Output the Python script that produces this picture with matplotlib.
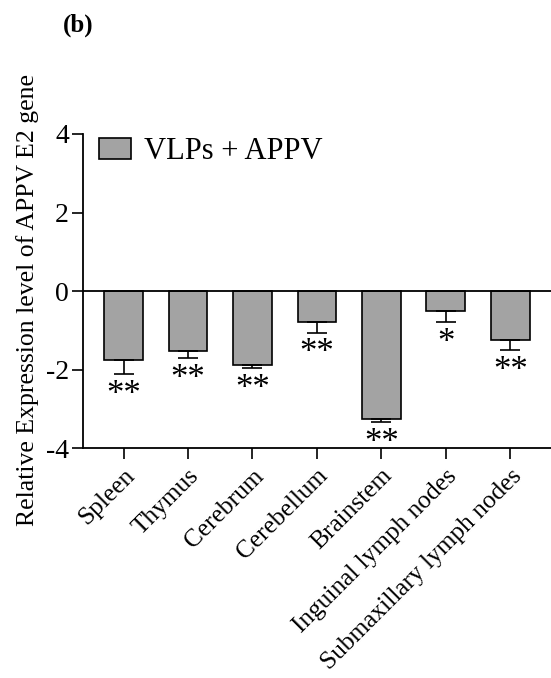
import matplotlib
matplotlib.use("Agg")
import matplotlib.pyplot as plt
import numpy as np

categories = ["Spleen", "Thymus", "Cerebrum", "Cerebellum", "Brainstem",
              "Inguinal lymph nodes", "Submaxillary lymph nodes"]
values = [-1.76, -1.53, -1.89, -0.80, -3.26, -0.51, -1.24]
errors = [0.36, 0.18, 0.08, 0.26, 0.08, 0.29, 0.26]
stars = ["**", "**", "**", "**", "**", "*", "**"]
series_name = "VLPs + APPV"
yticks = [-4, -2, 0, 2, 4]

plt.rcParams['font.family'] = ['Liberation Serif', 'DejaVu Serif']

fig = plt.figure(figsize=(5.51, 6.78), dpi=100)
ax = fig.add_axes([0.1506, 0.339, 0.849, 0.4634])

x = np.arange(len(categories))
ax.bar(x, values, width=0.6, color="#a3a3a3", edgecolor="black", linewidth=1.2,
       label=series_name, zorder=2)
ax.errorbar(x, values, yerr=[errors, [0]*len(errors)], fmt='none', ecolor='black',
            elinewidth=1.2, capsize=7.5, capthick=1.2, zorder=3)
ax.axhline(0, color='black', linewidth=1.3, zorder=4)

for xi, v, e, s in zip(x, values, errors, stars):
    ax.text(xi, v - e - 0.12, s, ha='center', va='top', fontsize=25, zorder=5)

ax.set_xlim(-0.63, len(categories) - 1 + 0.63)
ax.set_ylim(-4, 4)
ax.set_yticks(yticks)
ax.set_yticklabels([str(t) for t in yticks], fontsize=20)
ax.set_xticks(x)
ax.set_xticklabels(categories, rotation=45, ha='right', rotation_mode='anchor',
                   fontsize=18.3)
ax.tick_params(axis='both', direction='out', length=8, width=1.2, color='black')
ax.tick_params(axis='y', pad=2)
ax.tick_params(axis='x', pad=4)

for side in ['top', 'right']:
    ax.spines[side].set_visible(False)
for side in ['left', 'bottom']:
    ax.spines[side].set_linewidth(1.3)

ax.set_ylabel("Relative Expression level of APPV E2 gene", fontsize=18.5)
ax.yaxis.set_label_coords(-0.095, 0.47)

leg = ax.legend(loc='upper left', frameon=False, fontsize=22, handlelength=1.05,
                handleheight=0.65, borderaxespad=0.0, handletextpad=0.4,
                borderpad=0.0, bbox_to_anchor=(0.035, 0.99))

fig.text(0.115, 0.963, "(b)", fontsize=18, fontweight='bold', ha='left', va='center')

fig.savefig("out.png", dpi=100)
